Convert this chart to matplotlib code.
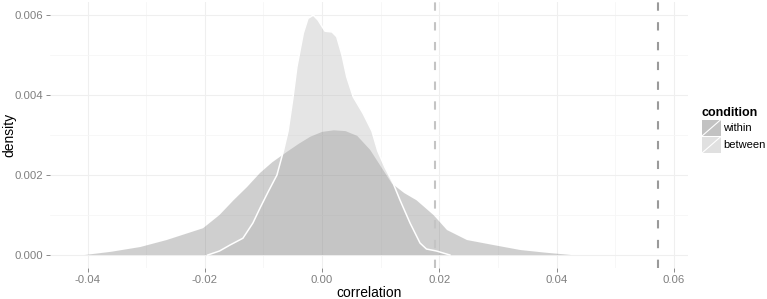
import matplotlib
matplotlib.use("Agg")
import matplotlib.pyplot as plt
from matplotlib.patches import Rectangle
from matplotlib.lines import Line2D
from matplotlib.legend_handler import HandlerBase

plt.rcParams['font.family'] = ['Liberation Sans', 'DejaVu Sans']

# density of correlation
within_x = [-0.0405, -0.036, -0.031, -0.0265, -0.0203, -0.0175, -0.0151, -0.0128,
            -0.0106, -0.0085, -0.006, -0.004, -0.002, 0.000, 0.002, 0.004, 0.006,
            0.0082, 0.010, 0.0119, 0.014, 0.0161, 0.019, 0.0213, 0.0247, 0.0292,
            0.0338, 0.038, 0.0425]
within_y = [0.0, 0.00008, 0.0002, 0.000375, 0.00067, 0.001, 0.00137, 0.0017,
            0.00205, 0.00232, 0.00258, 0.00278, 0.00296, 0.00308, 0.00312, 0.0031,
            0.00298, 0.00263, 0.00222, 0.00179, 0.00155, 0.00137, 0.001, 0.000625,
            0.000375, 0.00025, 0.000125, 0.00006, 0.0]

between_x = [-0.0195, -0.0175, -0.0157, -0.0135, -0.0118, -0.0106, -0.0092, -0.0077,
             -0.0066, -0.0058, -0.0050, -0.0043, -0.0032, -0.0024, -0.0015, -0.0007,
             0.0005, 0.0017, 0.0025, 0.0034, 0.0042, 0.0053, 0.007, 0.0085, 0.0095,
             0.0107, 0.0121, 0.0133, 0.015, 0.0167, 0.0178, 0.0195, 0.0218]
between_y = [0.0, 0.0001, 0.00025, 0.00042, 0.0008, 0.00117, 0.00158, 0.002,
             0.0026, 0.0031, 0.0039, 0.0047, 0.00555, 0.00592, 0.006, 0.00588,
             0.0056, 0.00558, 0.00546, 0.005, 0.00446, 0.00396, 0.00354, 0.0031, 0.0026,
             0.0022, 0.0018, 0.00137, 0.0008, 0.0003, 0.00015, 0.0001, 0.0]

conditions = ['within', 'between']
vline_x = [0.0573, 0.0193]          # observed correlation per condition
fill_colors = ['#6c6c6c', '#b1b1b1']
key_colors = ['#c2c2c2', '#e0e0e0']
vline_colors = ['#9a9a9a', '#c4c4c4']

x_ticks = [-0.04, -0.02, 0.00, 0.02, 0.04, 0.06]
x_labels = ['-0.04', '-0.02', '0.00', '0.02', '0.04', '0.06']
y_ticks = [0.000, 0.002, 0.004, 0.006]
y_labels = ['0.000', '0.002', '0.004', '0.006']

fig = plt.figure(figsize=(7.67, 2.99), dpi=100)
ax = fig.add_axes([50 / 767, 31 / 299, 638 / 767, 266 / 299])

ax.fill_between(within_x, within_y, 0, facecolor=fill_colors[0], alpha=0.32,
                edgecolor='none', zorder=2)
ax.fill_between(between_x, between_y, 0, facecolor=fill_colors[1], alpha=0.32,
                edgecolor='none', zorder=2)
ax.plot(between_x, between_y, color='white', lw=1.1, zorder=3)

for v, c in zip(vline_x, vline_colors):
    ax.axvline(v, color=c, lw=1.5, linestyle=(0, (4, 5.5)), zorder=4)

ax.set_xlim(-0.0464, 0.0624)
ax.set_ylim(-0.000325, 0.00633)
ax.set_xticks(x_ticks)
ax.set_xticklabels(x_labels)
ax.set_yticks(y_ticks)
ax.set_yticklabels(y_labels)
ax.set_xticks([-0.03, -0.01, 0.01, 0.03, 0.05], minor=True)
ax.set_yticks([0.001, 0.003, 0.005], minor=True)
ax.grid(which='major', color='#efefef', lw=0.8, zorder=0)
ax.grid(which='minor', color='#f6f6f6', lw=0.6, zorder=0)
ax.set_axisbelow(True)
for s in ax.spines.values():
    s.set_visible(False)
ax.tick_params(which='major', length=3, width=0.7, color='#8a8a8a',
               labelcolor='#7f7f7f', labelsize=8.2, pad=2)
ax.tick_params(which='minor', length=0)
ax.set_xlabel('correlation', fontsize=10, va='center')
ax.set_ylabel('density', fontsize=10, va='center')
ax.xaxis.set_label_coords(0.5, -25 / 266)
ax.yaxis.set_label_coords(-41 / 638, 0.5)


class KeyHandler(HandlerBase):
    def create_artists(self, legend, orig_handle, xdescent, ydescent,
                       width, height, fontsize, trans):
        r = Rectangle((-xdescent, -ydescent), width, height,
                      facecolor=orig_handle.get_facecolor(), edgecolor='none',
                      transform=trans)
        ln = Line2D([-xdescent, -xdescent + width], [-ydescent, -ydescent + height],
                    color='white', lw=0.8, transform=trans)
        return [r, ln]


handles = [Rectangle((0, 0), 1, 1, facecolor=c) for c in key_colors]
leg = fig.legend(handles, conditions, loc='upper left',
                 bbox_to_anchor=(702 / 767, 1 - 107 / 299),
                 frameon=False, fontsize=8, title='condition',
                 title_fontproperties={'weight': 'bold', 'size': 9},
                 handler_map={Rectangle: KeyHandler()},
                 handlelength=1.7, handleheight=1.9, labelspacing=0.05,
                 handletextpad=0.2, borderpad=0, borderaxespad=0)
leg._legend_box.align = 'left'

fig.savefig('out.png', dpi=100)
